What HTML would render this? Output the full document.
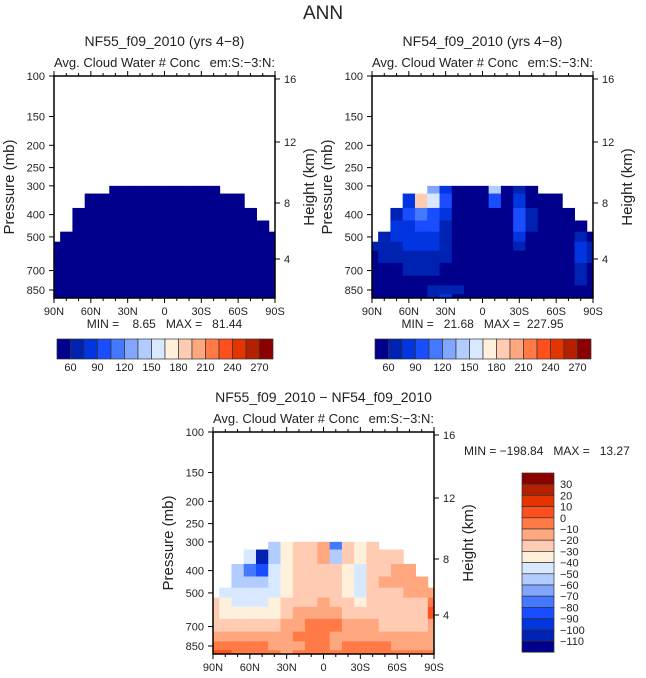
<!DOCTYPE html>
<html><head><meta charset="utf-8">
<style>
body{margin:0;background:#fff;}
svg{display:block;font-family:"Liberation Sans",sans-serif;}
.pre{white-space:pre;}
</style></head>
<body>
<svg id="fig" width="646" height="678" viewBox="0 0 646 678">
<text x="323" y="19" font-size="19" text-anchor="middle" fill="#222">ANN</text>
</svg>
<script>
// ===== data =====
const lats = [90,80,70,60,50,40,30,20,10,0,-10,-20,-30,-40,-50,-60,-70,-80,-90];
const levels = [300,350,400,450,500,550,600,700,775,850,925];
// first valid level index per latitude column (topography/cloud mask)
const topLevel = [5,4,2,1,1,0,0,0,0,0,0,0,0,0,1,1,2,3,4];

const nf55 = [
 [30,30,30,30,30,32,30,30,31,30,29,30,30,31,30,30,30,30,30],
 [30,30,30,30,31,32,30,30,31,30,29,30,30,31,30,30,30,30,30],
 [30,30,31,30,31,32,30,30,31,30,29,30,30,31,30,30,30,30,30],
 [30,30,31,30,31,32,30,30,31,30,29,30,30,31,30,30,30,30,30],
 [30,30,31,30,31,32,30,30,31,30,29,30,30,31,30,30,30,30,30],
 [30,30,31,30,31,32,30,30,31,30,29,30,30,31,30,30,30,30,30],
 [30,30,31,30,31,32,30,30,31,30,29,30,30,31,30,30,30,30,30],
 [30,30,31,30,31,32,30,30,31,30,29,30,30,31,30,30,30,30,30],
 [30,30,31,30,31,32,30,30,31,30,29,30,30,31,30,30,30,30,30],
 [30,30,31,30,31,40,35,30,31,30,29,30,30,31,30,30,30,30,30],
 [30,30,31,30,31,45,38,30,31,30,29,30,30,31,30,30,30,30,30]
];
const nf54 = [
 [40,40,40,40,40,130,80,40,40,40,140,50,70,50,40,40,40,40,40],
 [40,40,40,80,180,150,90,50,40,40,100,50,85,50,40,40,40,40,40],
 [40,40,70,90,110,100,80,50,40,40,45,50,90,60,40,40,40,40,40],
 [40,70,75,85,95,90,70,50,40,40,40,45,90,60,40,40,40,40,40],
 [40,65,75,80,85,80,65,45,40,40,40,45,80,55,40,40,40,70,40],
 [60,65,70,75,80,75,62,45,40,40,40,45,70,50,40,40,40,80,70],
 [55,62,65,70,72,70,60,45,40,40,40,42,55,45,40,40,40,75,60],
 [50,55,58,62,62,60,50,42,40,40,40,40,45,42,40,40,40,70,50],
 [45,45,45,48,50,50,48,42,40,40,40,40,40,40,40,40,40,62,45],
 [40,40,40,42,45,62,65,60,45,40,40,40,40,40,40,40,40,45,40],
 [40,40,40,42,45,62,75,55,45,40,40,40,40,40,40,40,40,42,40]
];
const diff = [
 [-30,-30,-30,-30,-60,-60,-35,-25,-28,-20,-80,-30,-35,-30,-30,-30,-30,-30,-30],
 [-30,-30,-30,-45,-110,-60,-40,-25,-30,-20,-55,-30,-38,-30,-25,-25,-30,-30,-30],
 [-30,-30,-60,-80,-90,-50,-38,-28,-30,-22,-30,-35,-42,-28,-22,-20,-20,-30,-30],
 [-30,-55,-55,-60,-55,-45,-35,-25,-28,-22,-28,-35,-42,-28,-20,-20,-18,-18,-30],
 [-30,-45,-48,-50,-50,-42,-35,-22,-25,-22,-25,-32,-42,-28,-22,-22,-20,-18,-20],
 [-30,-38,-42,-45,-45,-40,-30,-22,-22,-20,-22,-28,-35,-28,-25,-25,-25,-25,-5],
 [-28,-32,-35,-38,-38,-32,-25,-18,-15,-18,-20,-22,-25,-25,-28,-28,-28,-25,0],
 [-25,-25,-28,-28,-25,-22,-18,-12,-5,-8,-5,-15,-18,-20,-22,-22,-22,-22,-15],
 [-15,-15,-15,-15,-15,-12,-15,-8,-5,-8,-12,-15,-15,-15,-18,-18,-15,-18,-15],
 [-5,-5,-8,-8,-5,-12,-15,-12,-5,-8,-12,-8,-5,-8,-10,-12,-15,-12,-15],
 [3,3,-2,-5,-8,-10,-12,-10,-8,-3,-8,-5,-5,-5,-5,-8,-8,-10,-10]
];
const absBounds = [60,75,90,105,120,135,150,165,180,195,210,225,240,255,270];
const absLabels = ["60","90","120","150","180","210","240","270"];
const diffBounds = [-110,-100,-90,-80,-70,-60,-50,-40,-30,-20,-10,0,10,20,30];
const diffLabels = ["30","20","10","0","\u221210","\u221220","\u221230","\u221240","\u221250","\u221260","\u221270","\u221280","\u221290","\u2212100","\u2212110"];
const pTicks = [100,150,200,250,300,400,500,700,850];
const latTicks = [90,60,30,0,-30,-60,-90];
const latTickLabels = ["90N","60N","30N","0","30S","60S","90S"];
const kmTicks = [16,12,8,4];

const colors = ["#00008c","#0022b2","#0035e0","#1a4dff","#4479ff","#80a6ff","#b2ccff","#d8e9ff",
  "#fff0dc","#ffcbb3","#ffa77f","#ff7a47","#ff4f1c","#e43400","#b52000","#8b0000"];

const NS="http://www.w3.org/2000/svg";
const svg=document.getElementById('fig');
function mk(tag,attrs,parent){const e=document.createElementNS(NS,tag);for(const k in attrs)e.setAttribute(k,attrs[k]);(parent||svg).appendChild(e);return e;}
function txt(s,attrs,parent){const e=mk('text',attrs,parent);e.textContent=s;return e;}
function bin(v,b){let i=0;for(const t of b)if(v>=t)i++;return i;}

const pBot=921;
function drawPanel(x0,y0,data,bounds,name,title,mm){
  const w=221,h=222;
  const g=mk('g',{});
  
  
  const xS=lat=>x0+(90-lat)/180*w;
  const yS=p=>y0+h*Math.log(p/100)/Math.log(pBot/100);
  const edgesP=[levels[0]];
  for(let i=0;i<levels.length-1;i++)edgesP.push(Math.sqrt(levels[i]*levels[i+1]));
  edgesP.push(pBot);
  for(let j=0;j<lats.length;j++){
    const la=Math.min(90,lats[j]+5), lb=Math.max(-90,lats[j]-5);
    for(let i=topLevel[j];i<levels.length;i++){
      const v=data[i][j];
      const xa=xS(la),xb=xS(lb),ya=yS(edgesP[i]),yb=yS(edgesP[i+1]);
      const r=mk('rect',{x:xa.toFixed(2),y:ya.toFixed(2),width:(xb-xa+0.4).toFixed(2),height:(yb-ya+0.4).toFixed(2),fill:colors[bin(v,bounds)]},g);
      
      
    }
  }
  const fr=mk('rect',{x:x0,y:y0,width:w,height:h,fill:'none',stroke:'#000','stroke-width':1.5},g);
  
  
  pTicks.forEach(p=>{const y=yS(p);
    mk('line',{x1:x0-5,x2:x0,y1:y,y2:y,stroke:'#000'},g);
    const t=txt(String(p),{x:x0-9,y:y+4,'font-size':11,'text-anchor':'end',fill:'#222'},g);
    
    
  });
  latTicks.forEach((la,k)=>{const x=xS(la);
    mk('line',{x1:x,x2:x,y1:y0+h,y2:y0+h+5,stroke:'#000'},g);
    mk('line',{x1:x,x2:x,y1:y0,y2:y0-5,stroke:'#000'},g);
    const t=txt(latTickLabels[k],{x:x,y:y0+h+17,'font-size':11,'text-anchor':'middle',fill:'#222'},g);
    
    
  });
  for(let la=80;la>-90;la-=10){if(la%30===0)continue;const x=xS(la);mk('line',{x1:x,x2:x,y1:y0,y2:y0-3,stroke:'#000'},g);mk('line',{x1:x,x2:x,y1:y0+h,y2:y0+h+3,stroke:'#000'},g);}
  const kmY={16:3,12:66,8:127,4:183};
  kmTicks.forEach(k=>{const y=y0+kmY[k];
    mk('line',{x1:x0+w,x2:x0+w+5,y1:y,y2:y,stroke:'#000'},g);
    const t=txt(String(k),{x:x0+w+9,y:y+4,'font-size':11,fill:'#222'},g);
    
    
  });
  const yl=txt('Pressure (mb)',{x:0,y:0,'font-size':15,'text-anchor':'middle',fill:'#222',transform:`translate(${x0-40},${y0+h/2}) rotate(-90)`},g);
  
  
  const yr=txt('Height (km)',{x:0,y:0,'font-size':15,'text-anchor':'middle',fill:'#222',transform:`translate(${x0+w+39},${y0+h/2}) rotate(-90)`},g);
  
  
  const tt=txt(title,{x:x0+w/2,y:y0-30,'font-size':14,'text-anchor':'middle',fill:'#222'},g);
  
  
  const st=txt('Avg. Cloud Water # Conc',{x:x0,y:y0-9,'font-size':13,fill:'#222'},g);
  
  
  const s2=txt('em:S:\u22123:N:',{x:x0+w,y:y0-9,'font-size':13,'text-anchor':'end',fill:'#222'},g);
  
  
  if(mm){const m=txt(mm,{x:x0+w/2,y:y0+h+30,'font-size':12,'text-anchor':'middle',fill:'#222',class:'pre'},g);
    
    }
}
function hBar(x0,y0,name){
  const g=mk('g',{});
  
  
  const bw=13.5,bh=20;
  colors.forEach((c,i)=>{const r=mk('rect',{x:x0+i*bw,y:y0,width:bw,height:bh,fill:c,stroke:'#333','stroke-width':0.7},g);
    
    });
  absLabels.forEach((l,k)=>{const t=txt(l,{x:x0+(2*k+1)*bw,y:y0+bh+12,'font-size':11,'text-anchor':'middle',fill:'#222'},g);
    
    });
}
drawPanel(54,76,nf55,absBounds,'panel-nf55','NF55_f09_2010 (yrs 4\u22128)','MIN =    8.65   MAX =   81.44');
drawPanel(372,76,nf54,absBounds,'panel-nf54','NF54_f09_2010 (yrs 4\u22128)','MIN =   21.68   MAX =  227.95');
drawPanel(213,432,diff,diffBounds,'panel-difference','NF55_f09_2010 \u2212 NF54_f09_2010',null);
hBar(57,339,'colorbar-top-left');
hBar(375,339,'colorbar-top-right');
(function(){
  const g=mk('g',{});
  
  
  const x0=522,y0=473,bw=32,bh=11.2;
  for(let i=0;i<16;i++){const r=mk('rect',{x:x0,y:y0+i*bh,width:bw,height:bh,fill:colors[15-i],stroke:'#333','stroke-width':0.7},g);
    
    }
  diffLabels.forEach((l,k)=>{const t=txt(l,{x:x0+38,y:y0+(k+1)*bh+4,'font-size':11,fill:'#222'},g);
    
    });
  const m=txt('MIN = \u2212198.84   MAX =   13.27',{x:464,y:455,'font-size':12,fill:'#222',class:'pre'},g);
  
  
})();
</script>
</body></html>
